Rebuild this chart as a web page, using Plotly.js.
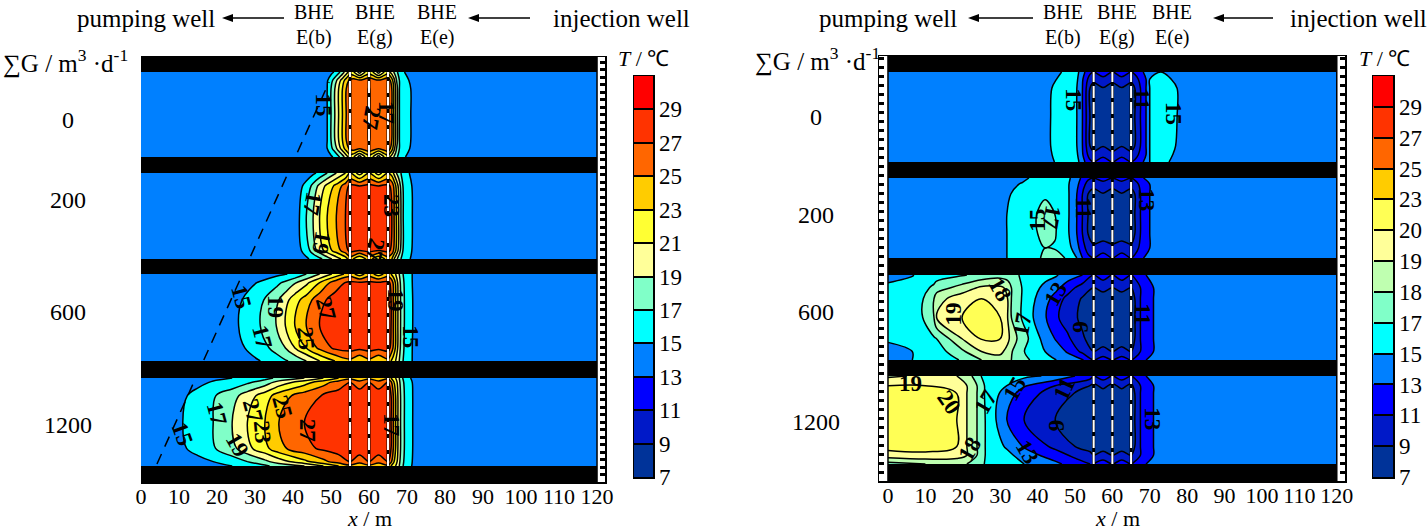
<!DOCTYPE html>
<html><head><meta charset="utf-8">
<script src="https://cdn.plot.ly/plotly-3.0.1.min.js"></script>
<style>html,body{margin:0;padding:0;background:#fff}#c{width:1427px;height:532px}</style>
</head><body><div id="c"></div>
<script>
// ---------- temperature levels ----------
const levelsL=[7,9,11,13,15,17,19,21,23,25,27,29];
const levelsR=[7,9,11,13,15,17,18,19,20,23,25,27,29];
const colorsL=['#003399','#0019C8','#0000FF','#0080FF','#00FFFF','#80FFC8','#FFFF99','#FFFF33','#FFCC00','#FF6600','#FF3300','#FF0000'];
const colorsR=['#003399','#0019C8','#0000FF','#0080FF','#00FFFF','#80FFC8','#BFFFB0','#FFFF99','#FFFF55','#FFCC00','#FF6600','#FF3300','#FF0000'];
const xTicks=[0,10,20,30,40,50,60,70,80,90,100,110,120];
const flowLabels=['0','200','600','1200'];

// ---------- LEFT panel temperature fields (rows listed bottom to top, fractions of the band height) ----------
const L1x=[0,45,49,50,51,52,53,54,55,56,57.5,59,60,61,62.5,64,65,66,66.5,67,67.5,68,69,71,75,120];
const L1f=[0,.1,.2,.5,.8,.9,1];
const L1z=[
[14,14,14.2,14.6,15.4,16.6,18,20,22,21,18,21,22,21,18,21,22,20,19,18,17,16.5,15.3,14.3,14,14],
[14,14,15,16.5,18,20,22,24,25.5,26,25.2,26,26.5,26,25.2,26,26.5,24,22,20,18,17,15.6,14.9,14,14],
[14,14,15,17,19,21,23,25,26.5,26,26,26,27.2,26,26,26,27,25,23,21,19,17,15.8,15,14,14],
[14,14,15,17,19,21,23,25,26.5,26,26,26,27.2,26,26,26,27,25,23,21,19,17,15.8,15,14,14],
[14,14,15,17,19,21,23,25,26.5,26,26,26,27.2,26,26,26,27,25,23,21,19,17,15.8,15,14,14],
[14,14,14.8,16.3,18,20,22,24,25.5,26,25.4,26,26.5,26,25.4,26,26.5,24,22,20,18,17,15.6,14.8,14,14],
[14,14,14,14.4,15.2,16.4,18,20,22,21,18,21,22,21,18,21,22,20,19,18,17,16.5,15.2,14,14,14]];

const L2x=[0,38,41.7,43.5,45.3,47,49,51.4,53.8,55,57.5,60,62.5,65,66,66.6,67.2,67.8,68.4,69,71.4,75,120];
const L2f=[0,.1,.5,.85,1];
const L2z=[
[14,14,14,14.6,15.6,16.5,18,20,22,24,21,24,21,24,23,21,19.5,18,17,16,14.7,14,14],
[14,14,14.6,16,18,20,22,24,26.2,27.6,27,27.6,27,27.6,26.5,24.5,22.5,20.5,18.5,16.8,14.9,14,14],
[14,14,15,17,19,21,23,25,27,28,28,28,28,28,27,25,23,21,19,17,15,14,14],
[14,14,14.5,15.6,17.6,19.6,21.6,23.6,26,27.5,27,27.5,27,27.5,26.5,24.5,22.5,20.5,18.5,16.8,14.9,14,14],
[14,14,14,14,14.6,15.5,17,19,21,23,20,23,20,23,22,20.5,19,18,17,16,14.5,14,14]];

const L3x=[0,20,25.7,31.4,35.6,38,40.5,43.5,47,51,55,57.5,60,62.5,65,65.8,66.4,67,67.6,68.3,69.3,71.5,75,120];
const L3f=[0,.15,.4,.7,.9,1];
const L3z=[
[14,14,14,15,16,16.8,17.5,19,21,23,24.5,23,24.5,23,24.5,23,22,21,20,18,16.5,14.9,14,14],
[14,14,14.6,16,17.8,19,21,23,25.5,27.4,27.8,27.5,27.8,27.5,27.8,26.6,24.7,22.8,20.8,18.8,16.8,14.9,14,14],
[14,14,15,17,19,21,23,25,27,28,28,28,28,28,28,27,25,23,21,19,17,15,14,14],
[14,14,14.7,16.6,18.5,20.3,22.2,24,26.4,27.8,28,28,28,28,28,27,25,23,21,19,17,15,14,14],
[14,14,14,15.2,16.5,17.4,18.8,20.5,23,26,27.5,27.2,27.5,27.2,27.5,26.6,24.7,22.8,20.8,18.8,16.8,14.9,14,14],
[14,14,14,14,14.5,14.9,15.4,17,19,21.5,24,22,24,22,24,23,22,21,20,18,16.5,14.9,14,14]];

const L4x=[0,6,11,15,19,24,28,32.6,36.3,43,48,52,55,57.5,60,62.5,65,65.8,66.4,67,67.6,68.3,69.3,71.5,75,120];
const L4f=[0,.05,.2,.5,.8,.95,1];
const L4z=[
[14,14,14,14,14.5,15,15.8,16.6,17.8,19,21,23,24.5,23,24.5,23,24.5,23,22,21,20,18,16.5,14.8,14,14],
[14,14,14,14.5,15,16,17,18.5,20,22.5,24.5,26,27,26,27,26,27,25.5,23.5,22,20.5,18.5,16.7,14.9,14,14],
[14,14,14.8,15.6,16.8,18.4,20.4,22.4,24.4,26.4,27.4,27.9,28,28,28,28,28,27,25,23,21,19,17,15,14,14],
[14,14,15,16,17,19,21,23,25,27,28,28,28,28,28,28,28,27,25,23,21,19,17,15,14,14],
[14,14,14.7,15.7,16.8,18.2,20,22,24,26,27.2,27.8,28,28,28,28,28,27,25,23,21,19,17,15,14,14],
[14,14,14,14.5,15.2,15.8,16.7,18,19.8,22.2,24.2,26,27,26,27,26,27,25.5,23.5,22,20.5,18.5,16.7,14.9,14,14],
[14,14,14,14,14.6,15,15.5,16.3,17.5,19,21,23,24.5,23,24.5,23,24.5,23,22,21,20,18,16.2,14.6,14,14]];

// ---------- RIGHT panel temperature fields ----------
const R1x=[0,40,43.5,47,50.5,52,53,54,55,57.5,60,62.5,65,66,67.5,69,70,73,77.3,81,120];
const R1f=[0,.08,.18,.5,.82,.92,1];
const R1z=[
[14,14,14.8,15.5,15.6,14,12.5,11.5,11,12.5,11,12.5,11,11.5,12.5,13.5,15,15.5,14.5,14,14],
[14,14,14.9,15.8,15.3,13.2,11.6,10,9.4,10.2,9.4,10.2,9.4,10,11.6,13,15,15.8,14.7,14,14],
[14,14,15,16,15,13,11,9,8.4,8.9,8.4,8.9,8.4,9,11,13,15,16,14.9,14,14],
[14,14,15,16,15,13,11,9,8,8,8,8,8,9,11,13,15,16,15,14,14],
[14,14,14.9,16,15,13,11,9,8.4,8.9,8.4,8.9,8.4,9,11,13,15,16,15,14,14],
[14,14,14.5,15.6,15.3,13.2,11.6,10,9.4,10.2,9.4,10.2,9.4,10,11.6,13,15,15.7,14.6,14,14],
[14,14,14,15.2,15.5,14,12.5,11.5,11,12.5,11,12.5,11,11.5,12.5,13.5,15,15,14,14,14]];

const R2x=[0,25,31.8,36,39.8,42,44.6,48.4,50.5,52,53.5,55,57.5,60,62.5,65,66,67.5,70,72,120];
const R2f=[0,.125,.3,.55,.8,.92,1];
const R2z=[
[14,14.2,15,15.8,16.5,17.3,17.6,16.5,15,13,11.6,11,12,11,12,11,11.5,12.6,13.8,14,14],
[14,14.2,15,15.8,16.6,17,16.8,15.6,13.6,12,10,9.4,10,9.4,10,9.4,10,11.5,13,14,14],
[14,14.2,15,16,16.9,17.4,17.1,15,13,11,9,8,8,8,8,8,9,11,13,14,14],
[14,14,15,16,17,17.5,17,15,13,11,9,8,8,8,8,8,9,11,13,14,14],
[14,14,14.8,15.6,16,16.6,16.2,15,13,11,9,8.5,8.9,8.5,8.9,8.5,9,11,13,14,14],
[14,14,14.4,15.2,15.8,16,16,15,13.4,12,10,9.4,10,9.4,10,9.4,10,11.5,13,14,14],
[14,14,14,14.6,15.5,15.8,15.8,15.2,14,12.5,11.5,11,12,11,12,11,11.5,12.6,13.8,14,14]];

const R3x=[0,6.5,9.3,12.3,13,19.8,25,30,32,33,35,38.5,42,45,48,52,55,57.5,60,62.5,65,66,67.5,69,71,73,120];
const R3f=[0,.1,.25,.5,.72,.85,1];
const R3z=[
[14.3,15,15.2,15.4,15.6,17.1,18,18.5,18.2,18,17.5,16.8,15.7,15,14,13.2,11,12,11,12,11,11.5,12,13,13.7,14,14],
[14.5,15,15.4,15.8,16,17.8,19,19.3,18.6,18.1,17.3,16.2,15,14,12.8,10.5,9,9.6,9,9.6,9,9.6,11,12,13,14,14],
[15.2,15.4,16,16.8,17,19,20.2,20,19.3,18.6,17.8,16.4,14.2,12.8,11.4,9.3,8,8,8,8,8,9,11,12,13,14,14],
[15.5,16,17,18,19,20,21,20,19,18,17.2,15.2,13.2,11.3,10,8.5,8,8,8,8,8,9,11,12,13,14,14],
[15.6,16,16.9,18,18.6,19.6,20,19.8,19,18,17.2,15.4,13.8,12,10.4,8.8,8,8,8,8,8,9,11,12,13,14,14],
[15.5,15.8,16.4,17.2,17.5,18.4,19.2,19.2,18.8,18,17.2,15.6,14.6,13.5,12,10,9,9.6,9,9.6,9,9.6,11,12,13,14,14],
[14.2,14.9,15.6,16,16.1,16.8,17.3,17.6,17.4,17.2,17,16,15.5,15.2,14,13,11,12,11,12,11,11.5,12,13,13.7,14,14]];

const R4x=[0,10,18.4,21.1,23.8,26,28.9,31.8,36.4,44.7,50,54,55,57.5,60,62.5,65,66,67.5,69,71,73,120];
const R4f=[0,.1,.2,.5,.8,.89,1];
const R4z=[
[17.6,18,18.2,18,17.4,16.9,16,16,15,13.5,12,11,11,12,11,12,11,11.5,12,13,13.7,14,14],
[19.6,19.8,19.5,19,18,17,16.2,15.6,14,12,10.5,9.4,9,9.8,9,9.8,9,9.8,11,12,13,14,14],
[21,21,20,19,18,17,15.8,14.7,12.8,10.5,9,8.4,8,8,8,8,8,9,11,12,13,14,14],
[21,21,20,19,18,17,15,13,11,9,8,8,8,8,8,8,8,9,11,12,13,14,14],
[21,21,20,19,18,16.8,15.4,14,12,10,8.9,8.2,8,8,8,8,8,9,11,12,13,14,14],
[20,20,19.7,19,18,16.8,16,15,13.2,11,10,9,8.5,9.6,8.5,9.6,8.5,9.6,11,12,13,14,14],
[18.8,19.2,19,18.5,17.5,16,16,15.6,15.5,14.6,13,12,11,12,11,12,11,11.5,12,13,13.7,14,14]];

const bheX=[55,60,65];
const trendX=[4.2,49.5], trendY=[18,400];

// contour labels: [text, x (m), height on the panel axis, rotation]
const labelsL=[
['15',48,377,90],['17',64.5,370,90],['27',60.5,364,100],
['17',45,279,100],['19',47.3,239,100],['23',65.8,277,90],['27',61.5,232,100],
['15',26.5,185,75],['19',35.5,175,90],['27',48.7,174,75],['17',32,145,75],['25',43.5,144,85],['19',67,182,90],['15',71,145,90],
['17',20,69,75],['27',29.5,72,75],['25',37.3,75,75],['27',44,52,90],['19',25.5,37,60],['23',32,50,85],['15',11,48,70],['17',66,57,90]];
const labelsR=[
['15',49.7,381,90],['11',67.9,382,90],['15',76.5,368,90],
['15',39.8,261,-90],['17',43.9,264,100],['11',52.4,273,90],['13',69.2,281,90],
['18',30,192,60],['19',17.5,167,-90],['17',35.8,157,-80],['13',44.7,187,-60],['9',51.3,154,-90],['11',68.1,167,90],
['19',5.9,98,0],['20',16.4,79,55],['17',26,79,-60],['15',33.7,92,-60],['11',47,92,-65],['9',45,56,-90],['18',21.7,32,-60],['13',37.4,29,60],['13',70.8,62,90]];

// ---------- layout geometry ----------
const W=1427,H=532;
const edgesL=[[0,16],[104,121],[208,223],[309,325],[410,425]];
const edgesR=[[0,17],[105,121],[206,223],[303,319],[409,425]];
const px=v=>v/W, py=v=>1-v/H;
const font='Liberation Serif';

function stepScale(cols){const n=cols.length,o=[];cols.forEach((c,i)=>{o.push([i/n,c]);o.push([(i+1)/n,c]);});return o;}
function toIndex(t,lv){ // places a temperature on the colour-level ladder
  if(t<=lv[0])return (t-lv[0])/2;
  for(let i=0;i<lv.length-1;i++){if(t<=lv[i+1])return i+(t-lv[i])/(lv[i+1]-lv[i]);}
  return lv.length-1+(t-lv[lv.length-1])/2;
}
const traces=[];
function band(xa,ya,x,f,z,lo,hi,cols,useIdx,lv){
  const zz=useIdx?z.map(r=>r.map(v=>toIndex(v,lv))):z;
  traces.push({type:'contour',xaxis:xa,yaxis:ya,x:x,y:f.map(v=>lo+v*(hi-lo)),z:zz,
    autocontour:false,
    contours:useIdx?{start:0,end:lv.length-1,size:1,coloring:'fill',showlines:true}:{start:lv[0],end:lv[lv.length-1],size:2,coloring:'fill',showlines:true},
    colorscale:stepScale([cols[0]].concat(cols)),line:{color:'#000',width:1.5,smoothing:1},hoverinfo:'skip',showscale:false});
}
const Lb=[[L1x,L1f,L1z],[L2x,L2f,L2z],[L3x,L3f,L3z],[L4x,L4f,L4z]];
const Rb=[[R1x,R1f,R1z],[R2x,R2f,R2z],[R3x,R3f,R3z],[R4x,R4f,R4z]];
Lb.forEach((b,i)=>band('x','y',b[0],b[1],b[2],edgesL[4-i-1][1],edgesL[4-i][0],colorsL,false,levelsL));
Rb.forEach((b,i)=>band('x2','y2',b[0],b[1],b[2],edgesR[4-i-1][1],edgesR[4-i][0],colorsR,true,levelsR));

// colour keys: one box per level interval
function key(xa,ya,cols){const n=cols.length;traces.push({type:'heatmap',xaxis:xa,yaxis:ya,x:[0,1],y:cols.map((c,i)=>i).concat([n]),
  z:cols.map((c,i)=>[i+.5]),zmin:0,zmax:n,colorscale:stepScale(cols),showscale:false,hoverinfo:'skip'});}
key('x3','y3',colorsL);key('x4','y4',colorsR);

// black bars between the bands
function bars(xa,ya,e){traces.push({type:'bar',orientation:'h',xaxis:xa,yaxis:ya,x:e.map(()=>120),base:0,
  y:e.map(d=>(d[0]+d[1])/2),width:e.map(d=>d[1]-d[0]),marker:{color:'#000',line:{width:0}},hoverinfo:'skip',showlegend:false});}
bars('x','y',edgesL);bars('x2','y2',edgesR);

// BHE lines
function bhe(xa,ya,e){bheX.forEach(v=>{const xs=[],ys=[];for(let i=0;i<e.length-1;i++){xs.push(v,v,null);ys.push(e[i][1],e[i+1][0],null);}
  traces.push({type:'scatter',mode:'lines',xaxis:xa,yaxis:ya,x:xs,y:ys,line:{color:'#000',width:3},hoverinfo:'skip',showlegend:false});
  traces.push({type:'scatter',mode:'lines',xaxis:xa,yaxis:ya,x:xs,y:ys,line:{color:'#fff',width:2,dash:'12px,4px'},hoverinfo:'skip',showlegend:false});});}
bhe('x','y',edgesL);bhe('x2','y2',edgesR);
traces.push({type:'scatter',mode:'lines',xaxis:'x',yaxis:'y',x:trendX,y:trendY,line:{color:'#000',width:1.5,dash:'11px,8px'},hoverinfo:'skip',showlegend:false});

// annotations
const ann=[];
const shapes=[{type:'line',xref:'x',yref:'y',x0:120,x1:120,y0:0,y1:425,line:{color:'#000',width:1.5},layer:'above'},
          {type:'line',xref:'x2',yref:'y2',x0:0,x1:0,y0:0,y1:425,line:{color:'#000',width:1.5},layer:'above'},
          {type:'line',xref:'x2',yref:'y2',x0:120,x1:120,y0:0,y1:425,line:{color:'#000',width:1.5},layer:'above'}];
function T(text,x,y,size,extra){ann.push(Object.assign({xref:'paper',yref:'paper',x:px(x),y:py(y),text:text,showarrow:false,xanchor:'center',yanchor:'middle',font:{family:font,size:size||22,color:'#000'}},extra||{}));}
function A(x1,x2,y){ // arrow drawn as a shaft and a head
  shapes.push({type:'line',xref:'paper',yref:'paper',x0:px(x1),x1:px(x2+5),y0:py(y),y1:py(y),line:{color:'#000',width:1.5}});
  shapes.push({type:'path',xref:'paper',yref:'paper',path:`M ${px(x2)} ${py(y)} L ${px(x2+11)} ${py(y-4)} L ${px(x2+11)} ${py(y+4)} Z`,fillcolor:'#000',line:{width:0}});
}
T('pumping well',146,18,25);T('injection well',621,18,25);T('pumping well',888,18,25);T('injection well',1358,18,25);
A(284,222,18);A(530,468,18);A(1033,968,18);A(1273,1213,18);
[[314,'E(b)'],[375,'E(g)'],[437,'E(e)']].forEach(d=>{T('BHE',d[0],12,20);T(d[1],d[0],38,20);});
[[1063,'E(b)'],[1117,'E(g)'],[1172,'E(e)']].forEach(d=>{T('BHE',d[0],12,20);T(d[1],d[0],38,20);});
T('∑G / m<sup>3</sup> ·d<sup>-1</sup>',65,62,25);T('∑G / m<sup>3</sup> ·d<sup>-1</sup>',817,60,25);
[120,200,312,425].forEach((y,i)=>T(flowLabels[i],68,y,24));
[117,215,312,422].forEach((y,i)=>T(flowLabels[i],816,y,24));
T('<i>T</i> / ℃',643,58,22);T('<i>T</i> / ℃',1384,58,22);
T('<i>x</i> / m',370,518,22);T('<i>x</i> / m',1117,518,22);
function clab(l,xa,ya){l.forEach(d=>ann.push({xref:xa,yref:ya,x:d[1],y:d[2],text:'<b>'+d[0]+'</b>',textangle:d[3],showarrow:false,font:{family:font,size:23,color:'#000'}}));}
clab(labelsL,'x','y');clab(labelsR,'x2','y2');

const yCommon={showgrid:false,zeroline:false,showticklabels:false,ticks:'inside',dtick:7.5,tick0:0,ticklen:5,tickwidth:3,tickcolor:'#000',showline:true,linecolor:'#000',linewidth:1.5,range:[0,425],fixedrange:true};
const xCommon={showgrid:false,zeroline:false,tickmode:'array',tickvals:xTicks,ticks:'',ticklabelstandoff:-6,tickfont:{family:font,size:22,color:'#000'},showline:true,linecolor:'#000',linewidth:1.5,mirror:true,fixedrange:true,tickangle:0};
function keyY(n,anchor,lv,dom){return {domain:dom,range:[0,n],side:'right',anchor:anchor,showgrid:false,zeroline:false,tickmode:'array',tickvals:lv.map((v,i)=>i),ticktext:lv.map(String),
  ticks:'inside',ticklen:19,tickwidth:2,tickcolor:'#000',tickfont:{family:font,size:23,color:'#000'},showline:true,linecolor:'#000',linewidth:1.5,mirror:true,fixedrange:true};}
function keyX(dom,anchor){return {domain:dom,range:[0,1],anchor:anchor,showticklabels:false,ticks:'',showgrid:false,zeroline:false,showline:true,linecolor:'#000',linewidth:1.5,mirror:true,fixedrange:true};}
const layout={width:W,height:H,margin:{l:0,r:0,t:0,b:0},paper_bgcolor:'#fff',plot_bgcolor:'#fff',showlegend:false,barmode:'overlay',
  xaxis:Object.assign({},xCommon,{domain:[px(141),px(605)],range:[0,122.1],anchor:'y'}),
  yaxis:Object.assign({},yCommon,{domain:[py(482),py(57)],side:'right',anchor:'x',mirror:false}),
  xaxis2:Object.assign({},xCommon,{domain:[px(879),px(1345)],range:[-2.4,122.2],anchor:'y2'}),
  yaxis2:Object.assign({},yCommon,{domain:[py(481),py(56)],anchor:'x2',mirror:'ticks',dtick:9}),
  xaxis3:keyX([px(634),px(653)],'y3'),
  yaxis3:keyY(colorsL.length,'x3',levelsL,[py(477),py(76)]),
  xaxis4:keyX([px(1373),px(1393)],'y4'),
  yaxis4:keyY(colorsR.length,'x4',levelsR,[py(477),py(76)]),
  annotations:ann,shapes:shapes};
Plotly.newPlot('c',traces,layout,{displayModeBar:false,staticPlot:true});
</script></body></html>
